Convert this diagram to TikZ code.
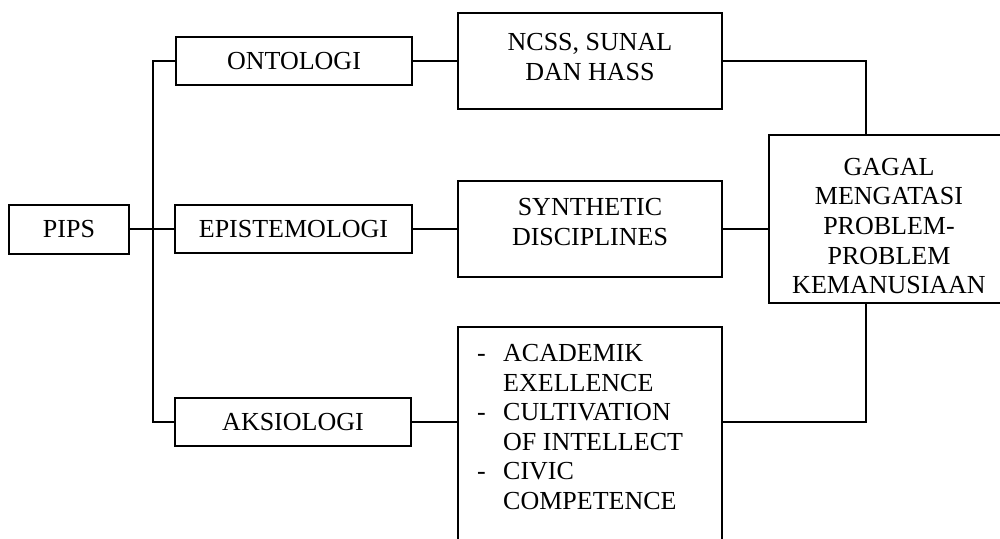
\documentclass[tikz,border=0pt]{standalone}
\usepackage{fontspec}
\setmainfont{Liberation Serif}
\begin{document}
\begin{tikzpicture}[x=1pt,y=-1pt,
  box/.style={draw, line width=2pt, inner sep=0pt},
  lbl/.style={font=\fontsize{26}{29.6}\selectfont, align=center, inner sep=0pt},
  conn/.style={line width=2pt}]
\useasboundingbox (0,0) rectangle (1000,538);
\clip (0,0) rectangle (1000,538);
\fill[white] (0,0) rectangle (1000,538);
% boxes
\node[box, lbl, minimum width=120pt, minimum height=49pt] (pips) at (69,229) {PIPS};
\node[box, lbl, minimum width=236pt, minimum height=48pt] (onto) at (294,61) {ONTOLOGI};
\node[box, lbl, minimum width=237pt, minimum height=48pt] (epis) at (293.5,229) {EPISTEMOLOGI};
\node[box, lbl, minimum width=236pt, minimum height=48pt] (aksi) at (293,422) {AKSIOLOGI};
\node[box, minimum width=264pt, minimum height=96pt] (ncss) at (590,61) {};
\node[box, minimum width=264pt, minimum height=96pt] (synth) at (590,229) {};
\node[box, minimum width=264pt, minimum height=240pt] (acad) at (590,447) {};
\node[box, minimum width=241pt, minimum height=168pt] (gagal) at (889.5,219) {};
% texts
\node[lbl] (ncsst) at (590,57) {NCSS, SUNAL\\DAN HASS};
\node[lbl] (syntht) at (590,222) {SYNTHETIC\\DISCIPLINES};
\node[lbl] (gagalt) at (889,226) {GAGAL\\MENGATASI\\PROBLEM-\\PROBLEM\\KEMANUSIAAN};
\node[lbl, align=left, anchor=west] (acadt) at (477,427)
  {\makebox[26pt][l]{-}ACADEMIK\\\hspace*{26pt}EXELLENCE\\\makebox[26pt][l]{-}CULTIVATION\\\hspace*{26pt}OF INTELLECT\\\makebox[26pt][l]{-}CIVIC\\\hspace*{26pt}COMPETENCE};
% connectors
\coordinate (vt) at (153,61);
\coordinate (vb) at (153,422);
\coordinate (jt) at (866,61);
\coordinate (jb) at (866,422);
\draw[conn] (pips.east) -- (epis.west);
\draw[conn] (onto.west) -- (vt) -- (vb) -- (aksi.west);
\draw[conn] (onto.east) -- (ncss.west);
\draw[conn] (epis.east) -- (synth.west);
\draw[conn] (aksi.east) -- (aksi.east -| acad.west);
\draw[conn] (ncss.east) -- (jt) -- (jt |- gagal.north);
\draw[conn] (synth.east) -- (synth.east -| gagal.west);
\draw[conn] (aksi.east -| acad.east) -- (jb) -- (jb |- gagal.south);
\end{tikzpicture}
\end{document}
